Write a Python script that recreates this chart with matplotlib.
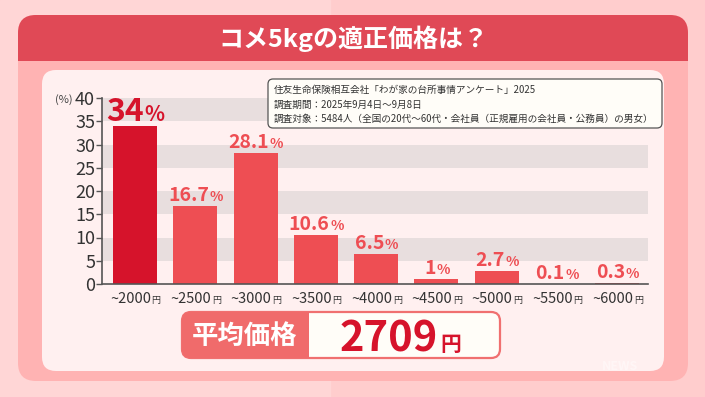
import matplotlib
matplotlib.use("Agg")
import matplotlib.pyplot as plt
from matplotlib.patches import FancyBboxPatch, Rectangle

plt.rcParams['font.family'] = ['Noto Sans CJK JP', 'DejaVu Sans']

# data
categories = ['~2000', '~2500', '~3000', '~3500', '~4000', '~4500', '~5000', '~5500', '~6000']
values = [34, 16.7, 28.1, 10.6, 6.5, 1, 2.7, 0.1, 0.3]
value_labels = ['34', '16.7', '28.1', '10.6', '6.5', '1', '2.7', '0.1', '0.3']
yticks = [0, 5, 10, 15, 20, 25, 30, 35, 40]
title = 'コメ5kgの適正価格は？'
source_lines = [
    '住友生命保険相互会社「わが家の台所事情アンケート」2025',
    '調査期間：2025年9月4日～9月8日',
    '調査対象：5484人（全国の20代～60代・会社員（正規雇用の会社員・公務員）の男女）',
]
avg_label = '平均価格'
avg_price = '2709'

W, H = 705, 397
DARK_RED = '#d6132b'
CORAL = '#ee4e53'

fig = plt.figure(figsize=(W / 100, H / 100), dpi=100)
fig.patch.set_facecolor('#ffcdcd')


def px_axes(z):
    a = fig.add_axes([0, 0, 1, 1])
    a.set_xlim(0, W)
    a.set_ylim(H, 0)
    a.axis('off')
    a.set_zorder(z)
    a.patch.set_alpha(0)
    return a


# background layer in pixel coords
bg = px_axes(0)
bg.add_patch(Rectangle((0, 0), 330, H, color='#ffd6d6', zorder=0))
bg.add_patch(FancyBboxPatch((18, 15), 670, 366, boxstyle='round,pad=0,rounding_size=18',
                            fc='#ffb3b3', ec='none', zorder=1))
bg.add_patch(FancyBboxPatch((18, 15), 670, 46, boxstyle='round,pad=0,rounding_size=18',
                            fc='#e04956', ec='none', zorder=2))
bg.add_patch(Rectangle((18, 40), 670, 21, fc='#e04956', ec='none', zorder=2))
bg.text(353, 39, title, color='white', fontsize=18, fontweight='bold',
        ha='center', va='center', zorder=3)
bg.add_patch(FancyBboxPatch((42, 70), 622, 301, boxstyle='round,pad=0,rounding_size=14',
                            fc='#fff0f0', ec='none', zorder=2))

bg.text(73, 100, '(%)', fontsize=8, color='#444444', ha='right', va='center', zorder=3)

# average price box
bg.add_patch(FancyBboxPatch((182, 312), 318, 46, boxstyle='round,pad=0,rounding_size=9',
                            fc='#fffdf8', ec='#f07070', lw=1.6, zorder=3))
bg.add_patch(FancyBboxPatch((182, 312), 127, 46, boxstyle='round,pad=0,rounding_size=9',
                            fc='#f06b6b', ec='none', zorder=4))
bg.add_patch(Rectangle((290, 312), 19, 46, fc='#f06b6b', ec='none', zorder=4))
bg.text(245, 336, avg_label, color='white', fontsize=19, fontweight='bold',
        ha='center', va='center', zorder=5)
bg.text(438, 351, avg_price, color=DARK_RED, fontsize=30, fontweight='bold',
        ha='right', va='baseline', zorder=5)
bg.text(440, 351, '円', color=DARK_RED, fontsize=15, fontweight='bold',
        ha='left', va='baseline', zorder=5)
bg.text(620, 366, 'NEWS', color='white', alpha=0.45, fontsize=9, fontweight='bold',
        ha='center', va='center', zorder=3)

# chart axes
ax = fig.add_axes([102 / W, (H - 284) / H, (648 - 102) / W, (284 - 98) / H])
ax.set_facecolor('none')
ax.set_zorder(4)
ax.set_xlim(-0.547, 8.51)
ax.set_ylim(0, 40)
for lo in (5, 15, 25, 35):
    ax.axhspan(lo, lo + 5, color='#e8dede', lw=0, zorder=0)

colors = [DARK_RED] + [CORAL] * (len(values) - 1)
x = list(range(len(values)))
ax.bar(x, values, width=0.73, color=colors, zorder=2)

for s in ('top', 'right'):
    ax.spines[s].set_visible(False)
for s in ('left', 'bottom'):
    ax.spines[s].set_color('#555555')
    ax.spines[s].set_linewidth(1.2)
ax.set_yticks(yticks)
ax.tick_params(axis='y', labelsize=13, colors='#555555', labelcolor='#333333',
               length=4, width=1, pad=1)
ax.set_xticks([])

# source box on top of the chart
top = px_axes(6)
top.add_patch(FancyBboxPatch((268, 79), 394, 49, boxstyle='round,pad=0,rounding_size=5',
                             fc='#fffdf8', ec='#555555', lw=0.9, zorder=5))
for i, line in enumerate(source_lines):
    top.text(274, 90 + i * 14.5, line, fontsize=6.95, color='#333333',
             ha='left', va='center', zorder=6)

renderer = fig.canvas.get_renderer()


def two_part(x, y, big, small, bsize, ssize, color, dy, weight='bold', ycoords='data'):
    t1 = ax.annotate(big, (x, y), xycoords=('data', ycoords), xytext=(0, dy),
                     textcoords='offset points', ha='left', va='baseline',
                     fontsize=bsize, fontweight=weight, color=color, zorder=6,
                     annotation_clip=False)
    t2 = ax.annotate(small, (x, y), xycoords=('data', ycoords), xytext=(0, dy),
                     textcoords='offset points', ha='left', va='baseline',
                     fontsize=ssize, fontweight=weight, color=color, zorder=6,
                     annotation_clip=False)
    w1 = t1.get_window_extent(renderer).width * 0.72
    w2 = t2.get_window_extent(renderer).width * 0.72
    t1.xyann = (-(w1 + w2) / 2, dy)
    t2.xyann = (-(w1 + w2) / 2 + w1 + 0.5, dy)


for i, (v, lab) in enumerate(zip(values, value_labels)):
    if i == 0:
        two_part(i, v, lab, '%', 23, 15, DARK_RED, 3.6)
    else:
        two_part(i, v, lab, '%', 14, 10, CORAL, 3.6)

for i, c in enumerate(categories):
    two_part(i, 0, c, '円', 10.5, 6.5, '#333333', -13.5, weight='normal', ycoords='axes fraction')

fig.savefig('out.png', dpi=100, facecolor=fig.get_facecolor())
